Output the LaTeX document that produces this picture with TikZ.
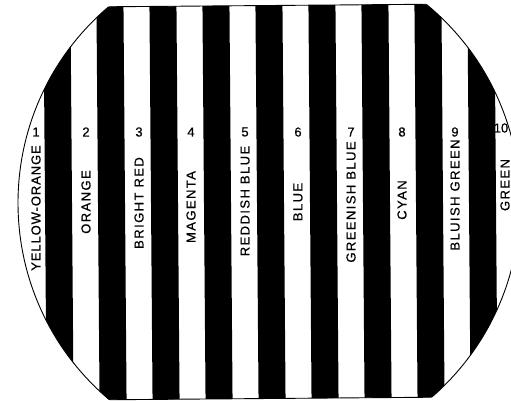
\documentclass[tikz,border=0pt]{standalone}
\usepackage{fontspec}
\newfontfamily\labfont[LetterSpace=11,FakeBold=0.6]{Liberation Sans}
\newfontfamily\tightfont[LetterSpace=7,FakeBold=0.6]{Liberation Sans}
\newfontfamily\numfont[FakeBold=0.6]{Liberation Sans}
\begin{document}
\begin{tikzpicture}[x=1pt,y=-1pt,
  lab/.style={font=\labfont\fontsize{13}{13}\selectfont, rotate=90, inner sep=0pt},
  num/.style={font=\numfont\fontsize{13}{13}\selectfont, inner sep=0pt},
  outline/.style={line width=0.9pt}]
\useasboundingbox (0,0) rectangle (511,400);
\begin{scope}[rotate around={0.45:(269,203)}]
  % black stripes clipped by the barrel shape
  \begin{scope}
    \clip (269,203) ellipse [x radius=251, y radius=255];
    \clip (0,5.5) rectangle (560,398.5);
    \foreach \k in {0,...,8} \fill (45+53*\k,0) rectangle ++(27,400);
  \end{scope}
  % outline: ellipse arcs
  \begin{scope}
    \clip (0,5.5) rectangle (560,398.5);
    \draw[outline] (269,203) ellipse [x radius=251, y radius=255];
  \end{scope}
  % outline: top and bottom edges
  \begin{scope}
    \clip (269,203) ellipse [x radius=251, y radius=255];
    \draw[outline] (0,5.5) -- (560,5.5);
    \draw[outline] (0,398.5) -- (560,398.5);
  \end{scope}
\end{scope}
% numbers
\node[num] (n1) at (36,132) {1};
\node[num] (n2) at (86,132) {2};
\node[num] (n3) at (139,132) {3};
\node[num] (n4) at (191,132) {4};
\node[num] (n5) at (245,132) {5};
\node[num] (n6) at (298,132) {6};
\node[num] (n7) at (351,132) {7};
\node[num] (n8) at (402,132) {8};
\node[num] (n9) at (455,132) {9};
\node[num] (n10) at (501,128) {10};
% colour names
\node[lab, font=\tightfont\fontsize{13}{13}\selectfont] (t1) at (36,208) {YELLOW-ORANGE};
\node[lab] (t2) at (86,202) {ORANGE};
\node[lab] (t3) at (139,203) {BRIGHT RED};
\node[lab] (t4) at (191,207) {MAGENTA};
\node[lab] (t5) at (245,201) {REDDISH BLUE};
\node[lab] (t6) at (298,202) {BLUE};
\node[lab] (t7) at (351,202) {GREENISH BLUE};
\node[lab] (t8) at (402,200) {CYAN};
\node[lab] (t9) at (455,195) {BLUISH GREEN};
\node[lab] (t10) at (505,185) {GREEN};
\end{tikzpicture}
\end{document}
